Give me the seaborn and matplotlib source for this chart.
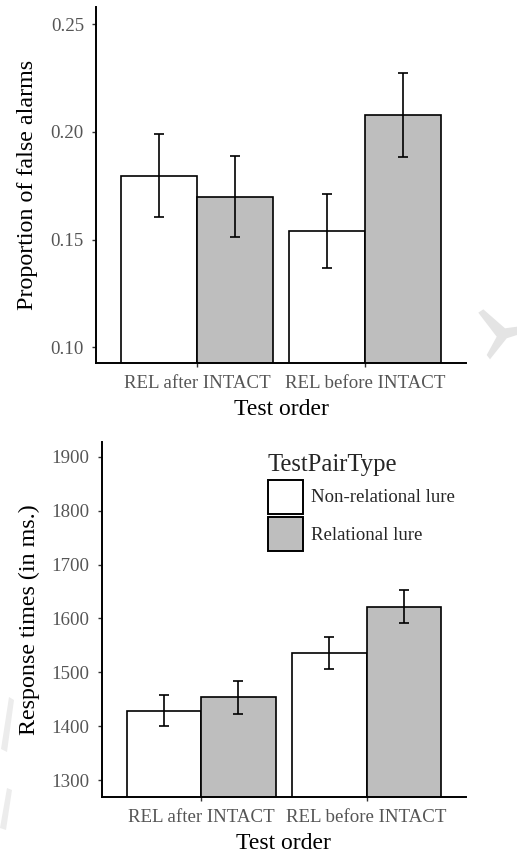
import numpy as np
import pandas as pd
import matplotlib
matplotlib.use("Agg")
import matplotlib.pyplot as plt
from matplotlib.patches import Polygon
import seaborn as sns

# ---------------- data ----------------
categories = ["REL after INTACT", "REL before INTACT"]
pair_types = ["Non-relational lure", "Relational lure"]

fa_nonrel = [0.1795, 0.1541]
fa_rel = [0.1699, 0.2080]
fa_nonrel_lo = [0.1604, 0.1368]
fa_nonrel_hi = [0.1989, 0.1714]
fa_rel_lo = [0.1511, 0.1885]
fa_rel_hi = [0.1887, 0.2274]

rt_nonrel = [1428, 1536]
rt_rel = [1454, 1621]
rt_nonrel_lo = [1401, 1506]
rt_nonrel_hi = [1457, 1565]
rt_rel_lo = [1423, 1592]
rt_rel_hi = [1484, 1652]

fa_ticks = [0.10, 0.15, 0.20, 0.25]
fa_ticklabels = ["0.10", "0.15", "0.20", "0.25"]
rt_ticks = [1300, 1400, 1500, 1600, 1700, 1800, 1900]

# ---------------- style ----------------
sns.set_theme(style="ticks")
plt.rcParams["font.family"] = ["Liberation Serif", "DejaVu Serif"]

DPI = 100
fig = plt.figure(figsize=(5.17, 8.55), dpi=DPI)

palette = {"Non-relational lure": "#FFFFFF", "Relational lure": "#BEBEBE"}
TICK_COLOR = "#555555"


def make_df(nonrel, rel, nl, nh, rl, rh):
    rows = []
    for i, c in enumerate(categories):
        rows.append(dict(order=c, type=pair_types[0], value=nonrel[i], lo=nl[i], hi=nh[i]))
        rows.append(dict(order=c, type=pair_types[1], value=rel[i], lo=rl[i], hi=rh[i]))
    return pd.DataFrame(rows)


def draw(ax, df, ylim, yticks, yticklabels, ylabel, ylabelpad):
    sns.barplot(data=df, x="order", y="value", hue="type", order=categories,
                hue_order=pair_types, palette=palette, width=0.9, gap=0,
                edgecolor="black", linewidth=1.2, errorbar=None, ax=ax,
                legend=True, saturation=1)
    conts = list(ax.containers)
    for h, cont in zip(pair_types, conts):
        sub = df[df["type"] == h].set_index("order").loc[categories]
        xs = [b.get_x() + b.get_width() / 2 for b in cont]
        vals = sub["value"].to_numpy()
        yerr = np.vstack([vals - sub["lo"].to_numpy(), sub["hi"].to_numpy() - vals])
        ax.errorbar(xs, vals, yerr=yerr, fmt="none", ecolor="black",
                    elinewidth=1.2, capsize=3.3, capthick=1.2, zorder=5)
    ax.set_xlim(-0.6, 1.6)
    ax.set_ylim(*ylim)
    ax.set_yticks(yticks)
    ax.set_yticklabels(yticklabels)
    for s in ["top", "right"]:
        ax.spines[s].set_visible(False)
    for s in ["left", "bottom"]:
        ax.spines[s].set_linewidth(1.4)
        ax.spines[s].set_color("black")
    ax.tick_params(axis="both", length=3.0, width=1.0, color="#333333",
                   labelcolor=TICK_COLOR, labelsize=13.6)
    ax.tick_params(axis="x", pad=5.5)
    ax.tick_params(axis="y", pad=5.7)
    ax.set_xlabel("Test order", fontsize=17, color="black", labelpad=5.0)
    ax.set_ylabel(ylabel, fontsize=17.3, color="black", labelpad=ylabelpad)


W, H = 517.0, 855.0
ax1 = fig.add_axes([96 / W, (H - 363.3) / H, 370 / W, 356 / H])
ax2 = fig.add_axes([101.7 / W, (H - 797.3) / H, 364.3 / W, 355.6 / H])

df_fa = make_df(fa_nonrel, fa_rel, fa_nonrel_lo, fa_nonrel_hi, fa_rel_lo, fa_rel_hi)
df_rt = make_df(rt_nonrel, rt_rel, rt_nonrel_lo, rt_nonrel_hi, rt_rel_lo, rt_rel_hi)

draw(ax1, df_fa, (0.0926, 0.2579), fa_ticks, fa_ticklabels,
     "Proportion of false alarms", 9)
ax1.get_legend().remove()

draw(ax2, df_rt, (1268, 1928), rt_ticks, [str(t) for t in rt_ticks],
     "Response times (in ms.)", 8)

handles, labels = ax2.get_legend_handles_labels()
ax2.get_legend().remove()
for hd in handles:
    hd.set_edgecolor("black")
    hd.set_linewidth(1.4)
leg = ax2.legend(handles, labels, title="TestPairType", loc="upper left",
                 bbox_to_anchor=(268 / W, 1 - 454 / H), bbox_transform=fig.transFigure,
                 frameon=False, fontsize=13.5, title_fontsize=17.7,
                 handlelength=1.87, handleheight=2.41, labelspacing=0.2,
                 handletextpad=0.4, borderpad=0, borderaxespad=0, alignment="left")

def px(pts):
    return [(x / W, 1 - y / H) for x, y in pts]

fig.add_artist(Polygon(px([(478.3, 312.7), (483.3, 309.3), (505, 328.3), (517, 326.7),
                           (517, 335), (506.7, 338.3), (490, 359.3), (486.7, 355),
                           (496.7, 336.7)]),
                       closed=True, transform=fig.transFigure, facecolor="#e4e4e4",
                       edgecolor="none", zorder=0))
fig.add_artist(Polygon(px([(9, 697), (14, 700), (7, 752), (1, 749)]), closed=True,
                       transform=fig.transFigure, facecolor="#ececec", edgecolor="none", zorder=0))
fig.add_artist(Polygon(px([(7, 788), (12, 790), (6, 830), (0, 828)]), closed=True,
                       transform=fig.transFigure, facecolor="#ececec", edgecolor="none", zorder=0))

fig.savefig("out.png", dpi=DPI)
